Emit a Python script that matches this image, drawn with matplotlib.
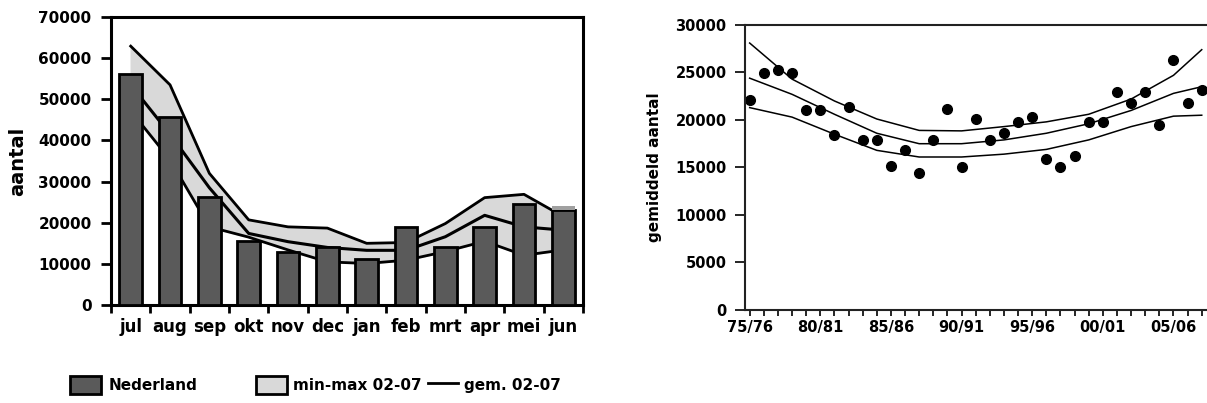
import matplotlib
matplotlib.use('Agg')
from matplotlib import pyplot as plt
from matplotlib.patches import Patch
from matplotlib.lines import Line2D

# left chart: monthly numbers, this season vs band of earlier seasons
months = ['jul', 'aug', 'sep', 'okt', 'nov', 'dec', 'jan', 'feb', 'mrt', 'apr', 'mei', 'jun']
nederland = [56200, 45700, 26200, 15600, 12900, 14100, 11200, 19000, 14100, 19000, 24600, 23200]
jun_cap = [0, 0, 0, 0, 0, 0, 0, 0, 0, 0, 0, 800]
band_max = [62900, 53500, 32000, 20700, 19000, 18700, 15000, 15200, 19800, 26100, 26900, 21500]
band_mean = [53500, 41500, 28500, 17400, 15400, 14000, 13300, 13300, 16600, 21800, 19000, 18200]
band_min = [47200, 35300, 19000, 16500, 13400, 10500, 10100, 10900, 13000, 15500, 12100, 13400]
left_yticks = [0, 10000, 20000, 30000, 40000, 50000, 60000, 70000]

# right chart: season averages 75/76 .. 07/08 with trend curves
season_avg = [22100, 24950, 25260, 24950, 21050, 21050, 18420, 21370, 17900, 17900,
              15160, 16840, 14420, 17900, 21160, 15050, 20100, 17900, 18630, 19790,
              20320, 15900, 15050, 16210, 19790, 19790, 22950, 21790, 22950, 19470,
              26300, 21790, 23160]
trend_idx = [0, 3, 6, 9, 12, 15, 18, 21, 24, 27, 30, 32]
trend_upper = [28100, 24300, 22000, 20100, 18900, 18850, 19300, 19800, 20600, 22200, 24700, 27400]
trend_mid = [24400, 22700, 20600, 18600, 17500, 17500, 17900, 18600, 19600, 21000, 22800, 23500]
trend_lower = [21300, 20300, 18500, 16800, 16100, 16100, 16400, 16900, 17900, 19300, 20400, 20500]
season_labels = ['75/76', '80/81', '85/86', '90/91', '95/96', '00/01', '05/06']
right_yticks = [0, 5000, 10000, 15000, 20000, 25000, 30000]

bar_col = '#5a5a5a'
band_col = '#d9d9d9'

fig = plt.figure(figsize=(12.07, 4.03), dpi=100)

########## left chart
ax1 = fig.add_axes([0.092, 0.243, 0.391, 0.715])
xpos = list(range(len(months)))
ax1.fill_between(xpos, band_min, band_max, color=band_col, zorder=1)
ax1.plot(xpos, band_max, color='black', lw=2, zorder=2)
ax1.plot(xpos, band_min, color='black', lw=2, zorder=2)
ax1.plot(xpos, band_mean, color='black', lw=2.2, zorder=2)
ax1.bar(xpos, nederland, width=0.58, color=bar_col, edgecolor='black', lw=2, zorder=3)
ax1.bar(xpos, jun_cap, bottom=nederland, width=0.58, color='#a0a0a0', lw=0, zorder=3)
ax1.set_xlim(-0.5, len(months) - 0.5)
ax1.set_ylim(0, 70000)
ax1.set_yticks(left_yticks)
ax1.set_yticklabels(['%d' % v for v in left_yticks], fontsize=11, fontweight='bold')
ax1.set_xticks(xpos)
ax1.set_xticklabels(months, fontsize=12, fontweight='bold')
ax1.set_xticks([x - 0.5 for x in xpos] + [len(months) - 0.5], minor=True)
ax1.tick_params(axis='x', which='major', length=0, pad=9)
ax1.tick_params(axis='x', which='minor', length=6, width=2, direction='out')
ax1.tick_params(axis='y', length=7, width=2, pad=7)
for sp in ax1.spines.values():
    sp.set_linewidth(2.2)
ax1.set_ylabel('aantal', fontsize=14, fontweight='bold', labelpad=8)

# legend below left chart
h1 = [Patch(facecolor=bar_col, edgecolor='black', lw=2)]
fig.legend(h1, ['Nederland'], loc='center left', bbox_to_anchor=(0.052, 0.045),
           frameon=False, prop={'size': 11, 'weight': 'bold'}, borderpad=0,
           handlelength=2.0, handleheight=1.4, handletextpad=0.5)
h2 = [Patch(facecolor=band_col, edgecolor='black', lw=2),
      Line2D([], [], color='black', lw=2)]
fig.legend(h2, ['min-max 02-07', 'gem. 02-07'], loc='center left',
           bbox_to_anchor=(0.206, 0.045), ncol=2, frameon=False,
           prop={'size': 11, 'weight': 'bold'}, borderpad=0, columnspacing=0.4,
           handlelength=2.0, handleheight=1.4, handletextpad=0.4)

########## right chart
ax2 = fig.add_axes([0.617, 0.231, 0.388, 0.707])
ax2.plot(trend_idx, trend_upper, color='black', lw=1.1)
ax2.plot(trend_idx, trend_mid, color='black', lw=1.1)
ax2.plot(trend_idx, trend_lower, color='black', lw=1.1)
ax2.plot(range(len(season_avg)), season_avg, ls='none', marker='o', ms=7,
         color='black', clip_on=False)
ax2.set_xlim(-0.35, 32.8)
ax2.set_ylim(0, 30000)
ax2.set_yticks(right_yticks)
ax2.set_yticklabels(['%d' % v for v in right_yticks], fontsize=10.5, fontweight='bold')
ax2.set_xticks(range(len(season_avg)))
ticklabs = [''] * len(season_avg)
for i, lab in enumerate(season_labels):
    ticklabs[i * 5] = lab
ax2.set_xticklabels(ticklabs, fontsize=10.5, fontweight='bold')
ax2.tick_params(axis='x', length=4, width=1.2, pad=3)
ax2.tick_params(axis='y', length=7, width=1.2, pad=6)
for sp in ax2.spines.values():
    sp.set_linewidth(1.5)
    sp.set_color('#222222')
ax2.set_ylabel('gemiddeld aantal', fontsize=11, fontweight='bold', labelpad=10)

plt.savefig('out.png', dpi=100)
